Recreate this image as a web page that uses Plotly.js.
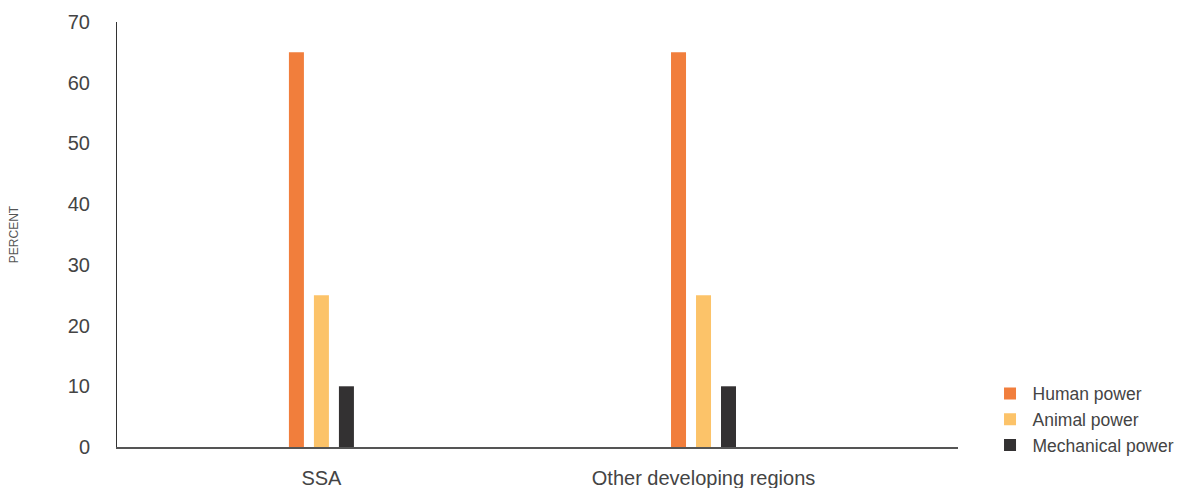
<!DOCTYPE html>
<html>
<head>
<meta charset="utf-8">
<script src="https://cdn.plot.ly/plotly-3.0.1.min.js"></script>
<style>
  html, body { margin: 0; padding: 0; background: #fff; }
  #chart { width: 1178px; height: 488px; }
</style>
</head>
<body>
<div id="chart"></div>
<script>
// Share of farm power by source, by region (percent)
const regions = ["SSA", "Other developing regions"];
const humanPower = [65, 65];
const animalPower = [25, 25];
const mechanicalPower = [10, 10];
const yTicks = [0, 10, 20, 30, 40, 50, 60, 70];

const FONT = "'Liberation Sans', Arial, Helvetica, sans-serif";

function series(name, values, color) {
  return {
    type: "bar",
    name: name,
    x: regions,
    y: values,
    marker: { color: color, line: { width: 0 } },
    legendgroup: name,
    hoverinfo: "x+y+name"
  };
}

const data = [
  series("Human power", humanPower, "#F17E3C"),
  series("Animal power", animalPower, "#FCC369"),
  series("Mechanical power", mechanicalPower, "#333132")
];

const layout = {
  width: 1178,
  height: 488,
  margin: { l: 117, r: 220, t: 22, b: 41, pad: 0, autoexpand: false },
  paper_bgcolor: "#ffffff",
  plot_bgcolor: "#ffffff",
  font: { family: FONT, color: "#444" },
  barmode: "group",
  bargap: 0.8037,
  bargroupgap: 0.4,
  showlegend: true,
  legend: {
    x: 1.0351,
    xanchor: "left",
    y: -0.039,
    yanchor: "bottom",
    itemwidth: 35,
    font: { size: 17.5, color: "#444", family: FONT },
    tracegroupgap: 0,
    bgcolor: "rgba(0,0,0,0)"
  },
  xaxis: {
    type: "category",
    range: [-0.535, 1.666],
    showline: true,
    linecolor: "#555",
    linewidth: 1.5,
    showgrid: false,
    zeroline: false,
    ticks: "",
    ticklabelstandoff: 12,
    automargin: false,
    tickfont: { size: 20, color: "#444", family: FONT },
    fixedrange: true
  },
  yaxis: {
    range: [0, 70],
    tickvals: yTicks,
    ticktext: yTicks.map(String),
    showline: true,
    linecolor: "#333",
    linewidth: 1,
    showgrid: false,
    zeroline: false,
    ticks: "",
    ticklabelstandoff: 22,
    automargin: false,
    tickfont: { size: 20, color: "#444", family: FONT },
    title: {
      text: "PERCENT",
      font: { size: 12, color: "#555", family: FONT },
      standoff: 46
    },
    fixedrange: true
  }
};

Plotly.newPlot("chart", data, layout, { displayModeBar: false });
</script>
</body>
</html>
